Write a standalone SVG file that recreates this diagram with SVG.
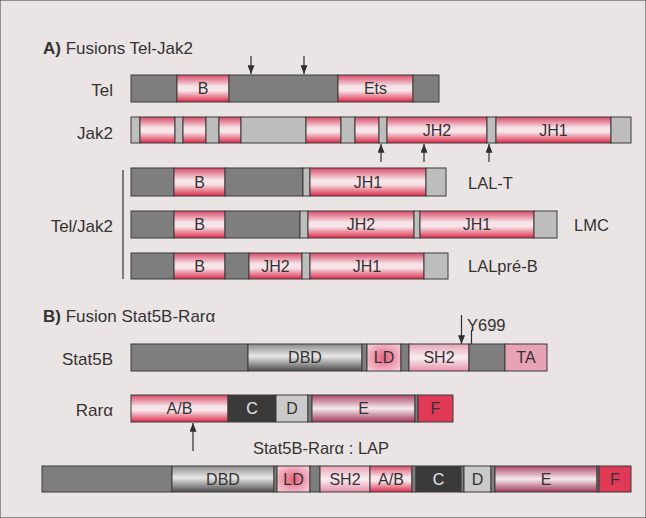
<svg xmlns="http://www.w3.org/2000/svg" width="646" height="518" viewBox="0 0 646 518">
<defs>
<linearGradient id="pink" x1="0" y1="0" x2="0" y2="1">
<stop offset="0" stop-color="#da4a6a"/><stop offset="0.42" stop-color="#f6e4e8"/><stop offset="0.58" stop-color="#f6e4e8"/><stop offset="1" stop-color="#dc2a48"/>
</linearGradient>
<linearGradient id="dbd" x1="0" y1="0" x2="0" y2="1">
<stop offset="0" stop-color="#8c8c8c"/><stop offset="0.45" stop-color="#e8e8e8"/><stop offset="1" stop-color="#4c4c4c"/>
</linearGradient>
<linearGradient id="sh2" x1="0" y1="0" x2="0" y2="1">
<stop offset="0" stop-color="#e8a4b6"/><stop offset="0.5" stop-color="#f8eef0"/><stop offset="1" stop-color="#e692aa"/>
</linearGradient>
<linearGradient id="e" x1="0" y1="0" x2="0" y2="1">
<stop offset="0" stop-color="#b04a6a"/><stop offset="0.5" stop-color="#f4eaec"/><stop offset="1" stop-color="#a23858"/>
</linearGradient>
<radialGradient id="ld" cx="0.5" cy="0.5" r="0.6">
<stop offset="0" stop-color="#e6607a"/><stop offset="0.6" stop-color="#ef9fb2"/><stop offset="1" stop-color="#f4c6d1"/>
</radialGradient>
<marker id="ah" viewBox="0 0 10 8" refX="10" refY="4" markerWidth="10" markerHeight="7" markerUnits="userSpaceOnUse" orient="auto">
<path d="M0,0 L10,4 L0,8 z" fill="#2e2e2e"/>
</marker>
<style>
rect{stroke:#3a3a3a;stroke-width:1}
.g{fill:#7e7e7e}
.lg{fill:#bdbdbd}
.p{fill:url(#pink)}
.dbd{fill:url(#dbd)}
.sh2{fill:url(#sh2)}
.ld{fill:url(#ld)}
.ta{fill:#e7a2b3}
.c{fill:#3a3a3a}
.d{fill:#cacaca}
.e{fill:url(#e)}
.f{fill:#e03a56}
text{font-family:"Liberation Sans",Arial,sans-serif;fill:#333}
.lab{font-size:17px;text-anchor:end}
.in{font-size:16px;text-anchor:middle}
.side{font-size:16.5px}
.title{font-size:17px}
.conn line{stroke:#2e2e2e;stroke-width:1.2}
</style>
</defs>
<rect x="0" y="0" width="646" height="518" fill="#ebe4e4" stroke="none"/>

<text class="title" x="43" y="54"><tspan font-weight="bold">A)</tspan> Fusions Tel-Jak2</text>
<text class="title" x="43" y="322"><tspan font-weight="bold">B)</tspan> Fusion Stat5B-Rarα</text>

<g id="tel">
<text class="lab" x="113" y="96">Tel</text>
<rect class="g" x="131" y="75" width="46" height="27"/>
<rect class="p" x="177" y="75" width="52" height="27"/>
<rect class="g" x="229" y="75" width="109" height="27"/>
<rect class="p" x="338" y="75" width="75" height="27"/>
<rect class="g" x="413" y="75" width="26" height="27"/>
<text class="in" x="203" y="94">B</text>
<text class="in" x="375.5" y="94">Ets</text>
</g>

<g id="jak2">
<text class="lab" x="113" y="139">Jak2</text>
<rect class="lg" x="131" y="117" width="9" height="26"/>
<rect class="p" x="140" y="117" width="35" height="26"/>
<rect class="lg" x="175" y="117" width="8" height="26"/>
<rect class="p" x="183" y="117" width="23" height="26"/>
<rect class="lg" x="206" y="117" width="13" height="26"/>
<rect class="p" x="219" y="117" width="22" height="26"/>
<rect class="lg" x="241" y="117" width="65" height="26"/>
<rect class="p" x="306" y="117" width="35" height="26"/>
<rect class="lg" x="341" y="117" width="14" height="26"/>
<rect class="p" x="355" y="117" width="24" height="26"/>
<rect class="lg" x="379" y="117" width="8" height="26"/>
<rect class="p" x="387" y="117" width="100" height="26"/>
<rect class="lg" x="487" y="117" width="9" height="26"/>
<rect class="p" x="496" y="117" width="115" height="26"/>
<rect class="lg" x="611" y="117" width="20" height="26"/>
<text class="in" x="437" y="136">JH2</text>
<text class="in" x="553.5" y="136">JH1</text>
</g>

<g id="teljak2">
<text class="lab" x="113" y="232">Tel/Jak2</text>
<line x1="123" y1="170" x2="123" y2="279" stroke="#333" stroke-width="1.2"/>
</g>

<g id="lal-t">
<rect class="g" x="131" y="168" width="43" height="28"/>
<rect class="p" x="174" y="168" width="51" height="28"/>
<rect class="g" x="225" y="168" width="78" height="28"/>
<rect class="lg" x="303" y="168" width="7" height="28"/>
<rect class="p" x="310" y="168" width="116" height="28"/>
<rect class="lg" x="426" y="168" width="20" height="28"/>
<text class="in" x="199.5" y="188">B</text>
<text class="in" x="368" y="188">JH1</text>
<text class="side" x="468" y="189">LAL-T</text>
</g>

<g id="lmc">
<rect class="g" x="131" y="211" width="43" height="27"/>
<rect class="p" x="174" y="211" width="51" height="27"/>
<rect class="g" x="225" y="211" width="75" height="27"/>
<rect class="lg" x="300" y="211" width="8" height="27"/>
<rect class="p" x="308" y="211" width="106" height="27"/>
<rect class="lg" x="414" y="211" width="6" height="27"/>
<rect class="p" x="420" y="211" width="114" height="27"/>
<rect class="lg" x="534" y="211" width="23" height="27"/>
<text class="in" x="199.5" y="230">B</text>
<text class="in" x="361" y="230">JH2</text>
<text class="in" x="477" y="230">JH1</text>
<text class="side" x="574" y="231">LMC</text>
</g>

<g id="lalpreb">
<rect class="g" x="131" y="253" width="43" height="26"/>
<rect class="p" x="174" y="253" width="51" height="26"/>
<rect class="g" x="225" y="253" width="24" height="26"/>
<rect class="p" x="249" y="253" width="53" height="26"/>
<rect class="lg" x="302" y="253" width="8" height="26"/>
<rect class="p" x="310" y="253" width="114" height="26"/>
<rect class="lg" x="424" y="253" width="24" height="26"/>
<text class="in" x="199.5" y="272">B</text>
<text class="in" x="275.5" y="272">JH2</text>
<text class="in" x="367" y="272">JH1</text>
<text class="side" x="468" y="272">LALpré-B</text>
</g>

<g id="stat5b">
<text class="lab" x="113" y="365">Stat5B</text>
<rect class="g" x="131" y="344" width="117" height="27"/>
<rect class="dbd" x="248" y="344" width="114" height="27"/>
<rect class="g" x="362" y="344" width="5" height="27"/>
<rect class="ld" x="367" y="344" width="34" height="27"/>
<rect class="g" x="401" y="344" width="8" height="27"/>
<rect class="sh2" x="409" y="344" width="60" height="27"/>
<rect class="g" x="469" y="344" width="36" height="27"/>
<rect class="ta" x="505" y="344" width="42" height="27"/>
<text class="in" x="305" y="363">DBD</text>
<text class="in" x="384" y="363">LD</text>
<text class="in" x="439" y="363">SH2</text>
<text class="in" x="526" y="363">TA</text>
<text class="side" x="467" y="331">Y699</text>
</g>

<g id="rara">
<text class="lab" x="113" y="416">Rarα</text>
<rect class="p" x="131" y="395" width="97" height="27"/>
<rect class="c" x="228" y="395" width="48" height="27"/>
<rect class="d" x="276" y="395" width="32" height="27"/>
<rect class="g" x="308" y="395" width="4" height="27"/>
<rect class="e" x="312" y="395" width="103" height="27"/>
<rect class="g" x="415" y="395" width="3" height="27"/>
<rect class="f" x="418" y="395" width="35" height="27"/>
<text class="in" x="179.5" y="414">A/B</text>
<text class="in" x="252" y="414" style="fill:#e6e6e6">C</text>
<text class="in" x="292" y="414">D</text>
<text class="in" x="363.5" y="414">E</text>
<text class="in" x="435.5" y="414">F</text>
</g>

<g id="fusion-lap">
<text x="253" y="454" style="font-size:16.5px">Stat5B-Rarα : LAP</text>
<rect class="g" x="42" y="466" width="130" height="26"/>
<rect class="dbd" x="172" y="466" width="102" height="26"/>
<rect class="g" x="274" y="466" width="3" height="26"/>
<rect class="ld" x="277" y="466" width="33" height="26"/>
<rect class="g" x="310" y="466" width="10" height="26"/>
<rect class="sh2" x="320" y="466" width="50" height="26"/>
<rect class="p" x="370" y="466" width="42" height="26"/>
<rect class="g" x="412" y="466" width="4" height="26"/>
<rect class="c" x="416" y="466" width="45" height="26"/>
<rect class="g" x="461" y="466" width="3" height="26"/>
<rect class="d" x="464" y="466" width="27" height="26"/>
<rect class="g" x="491" y="466" width="4" height="26"/>
<rect class="e" x="495" y="466" width="102" height="26"/>
<rect class="g" x="597" y="466" width="2" height="26"/>
<rect class="f" x="599" y="466" width="32" height="26"/>
<text class="in" x="223" y="485">DBD</text>
<text class="in" x="293.5" y="485">LD</text>
<text class="in" x="345" y="485">SH2</text>
<text class="in" x="391" y="485">A/B</text>
<text class="in" x="438.5" y="485" style="fill:#e6e6e6">C</text>
<text class="in" x="477.5" y="485">D</text>
<text class="in" x="546" y="485">E</text>
<text class="in" x="615" y="485">F</text>
</g>

<g id="connectors" class="conn">
<line x1="251" y1="56" x2="251" y2="74" marker-end="url(#ah)"/>
<line x1="304" y1="56" x2="304" y2="74" marker-end="url(#ah)"/>
<line x1="381" y1="162" x2="381" y2="144" marker-end="url(#ah)"/>
<line x1="424" y1="162" x2="424" y2="144" marker-end="url(#ah)"/>
<line x1="489" y1="162" x2="489" y2="144" marker-end="url(#ah)"/>
<line x1="461.5" y1="315" x2="461.5" y2="344" marker-end="url(#ah)"/>
<line x1="471.5" y1="330" x2="471.5" y2="344"/>
<line x1="193" y1="451" x2="193" y2="423" marker-end="url(#ah)"/>
</g>
</svg>
